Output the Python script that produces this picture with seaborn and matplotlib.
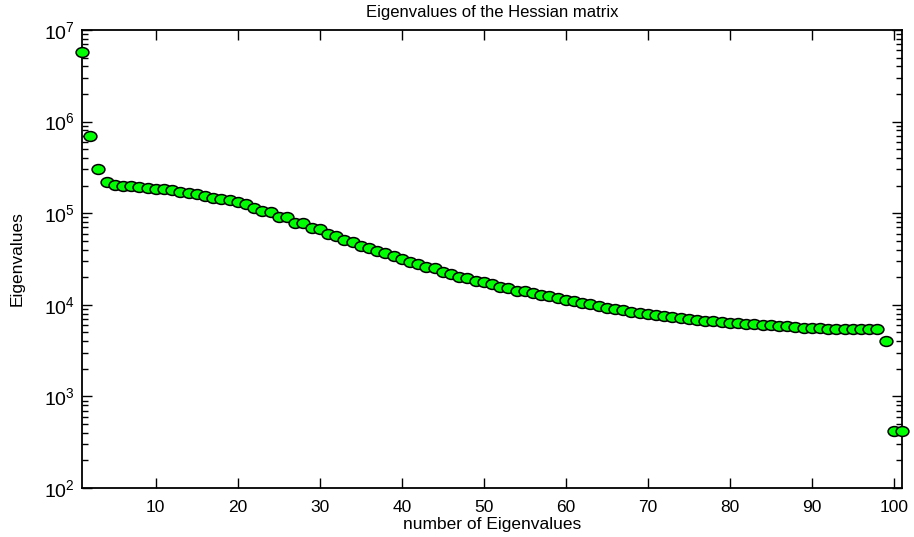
import numpy as np
import pandas as pd
import matplotlib
matplotlib.use("Agg")
import matplotlib.pyplot as plt
import seaborn as sns
from matplotlib.path import Path
from matplotlib.markers import MarkerStyle
import matplotlib.ticker as mticker
from matplotlib.transforms import Affine2D

index = list(range(1, 102))
eigenvalues = [
    5.7e6, 6.9e5, 3.05e5, 2.19e5, 2.03e5, 1.98e5, 1.96e5, 1.93e5, 1.90e5, 1.86e5,
    1.82e5, 1.78e5, 1.72e5, 1.68e5, 1.61e5, 1.54e5, 1.48e5, 1.44e5, 1.38e5, 1.31e5,
    1.25e5, 1.14e5, 1.07e5, 1.02e5, 9.2e4, 9.0e4, 7.9e4, 7.8e4, 6.9e4, 6.7e4,
    5.9e4, 5.7e4, 5.1e4, 4.8e4, 4.4e4, 4.17e4, 3.9e4, 3.65e4, 3.44e4, 3.16e4,
    2.96e4, 2.79e4, 2.57e4, 2.51e4, 2.27e4, 2.17e4, 2.0e4, 1.95e4, 1.84e4, 1.76e4,
    1.69e4, 1.58e4, 1.52e4, 1.43e4, 1.40e4, 1.34e4, 1.28e4, 1.24e4, 1.18e4, 1.13e4,
    1.09e4, 1.05e4, 1.01e4, 9.7e3, 9.2e3, 8.9e3, 8.67e3, 8.33e3, 8.12e3, 7.98e3,
    7.78e3, 7.53e3, 7.35e3, 7.17e3, 7.0e3, 6.87e3, 6.7e3, 6.59e3, 6.49e3, 6.37e3,
    6.27e3, 6.2e3, 6.15e3, 6.06e3, 5.96e3, 5.87e3, 5.81e3, 5.72e3, 5.64e3, 5.6e3,
    5.57e3, 5.5e3, 5.47e3, 5.46e3, 5.44e3, 5.43e3, 5.42e3, 5.39e3, 4.0e3, 4.2e2,
    4.2e2,
]
x_ticks = [10, 20, 30, 40, 50, 60, 70, 80, 90, 100]
y_ticks = [1e2, 1e3, 1e4, 1e5, 1e6, 1e7]
y_tick_labels = [r"$10^{2}$", r"$10^{3}$", r"$10^{4}$", r"$10^{5}$", r"$10^{6}$", r"$10^{7}$"]

df = pd.DataFrame({"n": index, "eig": eigenvalues})

sns.set_style("ticks")
plt.rcParams["font.family"] = ["Liberation Sans Narrow", "Liberation Sans", "DejaVu Sans"]
plt.rcParams["mathtext.fontset"] = "custom"
plt.rcParams["mathtext.rm"] = "Liberation Sans"
plt.rcParams["mathtext.it"] = "Liberation Sans"
plt.rcParams["text.color"] = "black"
plt.rcParams["axes.labelcolor"] = "black"
plt.rcParams["xtick.color"] = "black"
plt.rcParams["ytick.color"] = "black"

fig = plt.figure(figsize=(9.14, 5.37), dpi=100)
ax = fig.add_axes([82 / 914, 1 - 488 / 537, (902 - 82) / 914, (488 - 30) / 537])

ell = Path.unit_circle().transformed(Affine2D().scale(1.3, 1.0))
marker = MarkerStyle(ell)

sns.scatterplot(data=df, x="n", y="eig", ax=ax, marker=marker, s=85,
                color="#00ff00", edgecolor="black", linewidth=1.1, zorder=3,
                clip_on=False, legend=False)

ax.set_yscale("log")
ax.set_xlim(1, 101)
ax.set_ylim(1e2, 1e7)
ax.set_xticks(x_ticks)
ax.set_xticklabels([str(t) for t in x_ticks], family="Liberation Sans")
ax.set_yticks(y_ticks)
ax.set_yticklabels(y_tick_labels, fontsize=14)
ax.yaxis.set_minor_locator(mticker.LogLocator(base=10, subs=np.arange(2, 10), numticks=50))
ax.yaxis.set_minor_formatter(mticker.NullFormatter())

for s in ax.spines.values():
    s.set_visible(True)
    s.set_linewidth(1.3)
    s.set_color("black")

ax.tick_params(which="both", direction="in", top=True, right=True, width=1.0)
ax.tick_params(axis="x", labelsize=12.5, pad=9)
ax.tick_params(which="major", length=7)
ax.tick_params(which="minor", length=4)
ax.tick_params(axis="y", pad=5)

ax.set_title("Eigenvalues of the Hessian matrix", fontsize=12, pad=9)
ax.set_xlabel("number of Eigenvalues", fontsize=12.5, labelpad=1)
ax.set_ylabel("Eigenvalues", fontsize=12.5, labelpad=14)
ax.grid(False)

fig.savefig("out.png", dpi=100, facecolor="white")
